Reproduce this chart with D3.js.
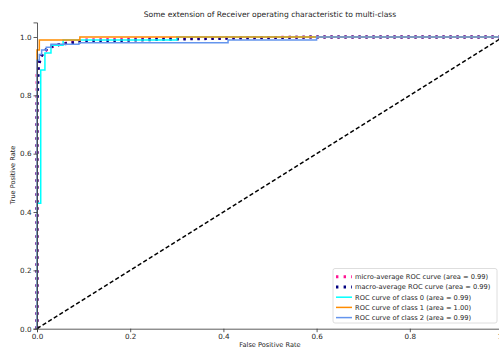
<!DOCTYPE html>
<html>
<head>
<meta charset="utf-8">
<script src="https://cdn.jsdelivr.net/npm/d3@7"></script>
<style>
  body { margin: 0; background: #fff; }
  text { font-family: "DejaVu Sans", sans-serif; fill: #262626; }
</style>
</head>
<body>
<div id="chart"></div>
<script>
// ROC curves
var microFpr = [0, 0, 0.003, 0.007, 0.015, 0.03, 0.05, 0.1, 0.3, 0.6, 1];
var microTpr = [0, 0.87, 0.9, 0.93, 0.95, 0.965, 0.975, 0.99, 0.995, 1, 1];
var macroFpr = [0, 0, 0.003, 0.008, 0.015, 0.025, 0.05, 0.1, 0.3, 0.6, 1];
var macroTpr = [0, 0.76, 0.9, 0.93, 0.95, 0.965, 0.975, 0.985, 0.993, 1, 1];
var class0Fpr = [0, 0, 0.008, 0.008, 0.017, 0.017, 0.03, 0.03, 0.056, 0.056, 0.3, 0.3, 1];
var class0Tpr = [0, 0.43, 0.43, 0.887, 0.887, 0.945, 0.945, 0.972, 0.972, 0.99, 0.99, 1, 1];
var class1Fpr = [0, 0, 0.005, 0.005, 0.092, 0.092, 1];
var class1Tpr = [0, 0.955, 0.955, 0.99, 0.99, 1, 1];
var class2Fpr = [0, 0, 0.005, 0.005, 0.01, 0.01, 0.02, 0.02, 0.03, 0.03, 0.09, 0.09, 0.41, 0.41, 0.6, 0.6, 1];
var class2Tpr = [0, 0.92, 0.92, 0.94, 0.94, 0.955, 0.955, 0.965, 0.965, 0.975, 0.975, 0.98, 0.98, 0.99, 0.99, 1, 1];
var diagFpr = [0, 1];
var diagTpr = [0, 1];

var legendLabels = [
  "micro-average ROC curve (area = 0.99)",
  "macro-average ROC curve (area = 0.99)",
  "ROC curve of class 0 (area = 0.99)",
  "ROC curve of class 1 (area = 1.00)",
  "ROC curve of class 2 (area = 0.99)"
];
var xTicks = [0, 0.2, 0.4, 0.6, 0.8, 1.0];
var yTicks = [0, 0.2, 0.4, 0.6, 0.8, 1.0];

var width = 499, height = 349;
var svg = d3.select("#chart").append("svg")
  .attr("width", width).attr("height", height);

var x = d3.scaleLinear().domain([0, 1]).range([37, 503]);
var y = d3.scaleLinear().domain([0, 1.05]).range([328.7, 22.4]);

/* series styles */
var series = [
  {fpr: microFpr, tpr: microTpr, color: "deeppink", w: 3, dash: "2.4,4.6"},
  {fpr: macroFpr, tpr: macroTpr, color: "navy", w: 3, dash: "2.4,4.6"},
  {fpr: class0Fpr, tpr: class0Tpr, color: "aqua", w: 1.5, dash: null},
  {fpr: class1Fpr, tpr: class1Tpr, color: "darkorange", w: 1.5, dash: null},
  {fpr: class2Fpr, tpr: class2Tpr, color: "cornflowerblue", w: 1.5, dash: null}
];

var line = d3.line().x(function(d) { return x(d[0]); }).y(function(d) { return y(d[1]); });

series.forEach(function(s) {
  var pts = s.fpr.map(function(v, i) { return [v, s.tpr[i]]; });
  svg.append("path")
    .attr("d", line(pts))
    .attr("fill", "none")
    .attr("stroke", s.color)
    .attr("stroke-width", s.w)
    .attr("stroke-dasharray", s.dash);
});

// chance diagonal
svg.append("path")
  .attr("d", line(diagFpr.map(function(v, i) { return [v, diagTpr[i]]; })))
  .attr("fill", "none")
  .attr("stroke", "black")
  .attr("stroke-width", 1.5)
  .attr("stroke-dasharray", "4.2,2.4");

// axes
var xAxis = svg.append("g")
  .attr("transform", "translate(0," + y(0) + ")")
  .call(d3.axisBottom(x).tickValues(xTicks).tickFormat(d3.format(".1f")).tickSize(3.5).tickPadding(2));
var yAxis = svg.append("g")
  .attr("transform", "translate(" + x(0) + ",0)")
  .call(d3.axisLeft(y).tickValues(yTicks).tickFormat(d3.format(".1f")).tickSize(3.5).tickPadding(2));

[xAxis, yAxis].forEach(function(a) {
  a.selectAll("path, line").attr("stroke", "#333").attr("stroke-width", 0.8);
  a.selectAll("text").style("font-size", "7.2px").attr("fill", "#333");
});

svg.append("text")
  .attr("x", 270).attr("y", 17)
  .attr("text-anchor", "middle")
  .style("font-size", "7.6px")
  .text("Some extension of Receiver operating characteristic to multi-class");

svg.append("text")
  .attr("x", 270).attr("y", 347)
  .attr("text-anchor", "middle")
  .style("font-size", "6.6px")
  .text("False Positive Rate");

svg.append("text")
  .attr("transform", "translate(15,175) rotate(-90)")
  .attr("text-anchor", "middle")
  .style("font-size", "6.6px")
  .text("True Positive Rate");

// legend
var lg = svg.append("g").attr("transform", "translate(333,268.5)");
lg.append("rect")
  .attr("width", 164).attr("height", 54.5)
  .attr("rx", 2)
  .attr("fill", "white").attr("fill-opacity", 0.85)
  .attr("stroke", "#d6d6d6").attr("stroke-width", 0.8);

legendLabels.forEach(function(lbl, i) {
  var s = series[i];
  var yy = 8.3 + i * 10.2;
  lg.append("line")
    .attr("x1", 3).attr("x2", 19).attr("y1", yy).attr("y2", yy)
    .attr("stroke", s.color)
    .attr("stroke-width", s.w)
    .attr("stroke-dasharray", s.dash ? "2.4,5.2" : null);
  lg.append("text")
    .attr("x", 22).attr("y", yy + 2.4)
    .style("font-size", "6.7px")
    .text(lbl);
});
</script>
</body>
</html>
